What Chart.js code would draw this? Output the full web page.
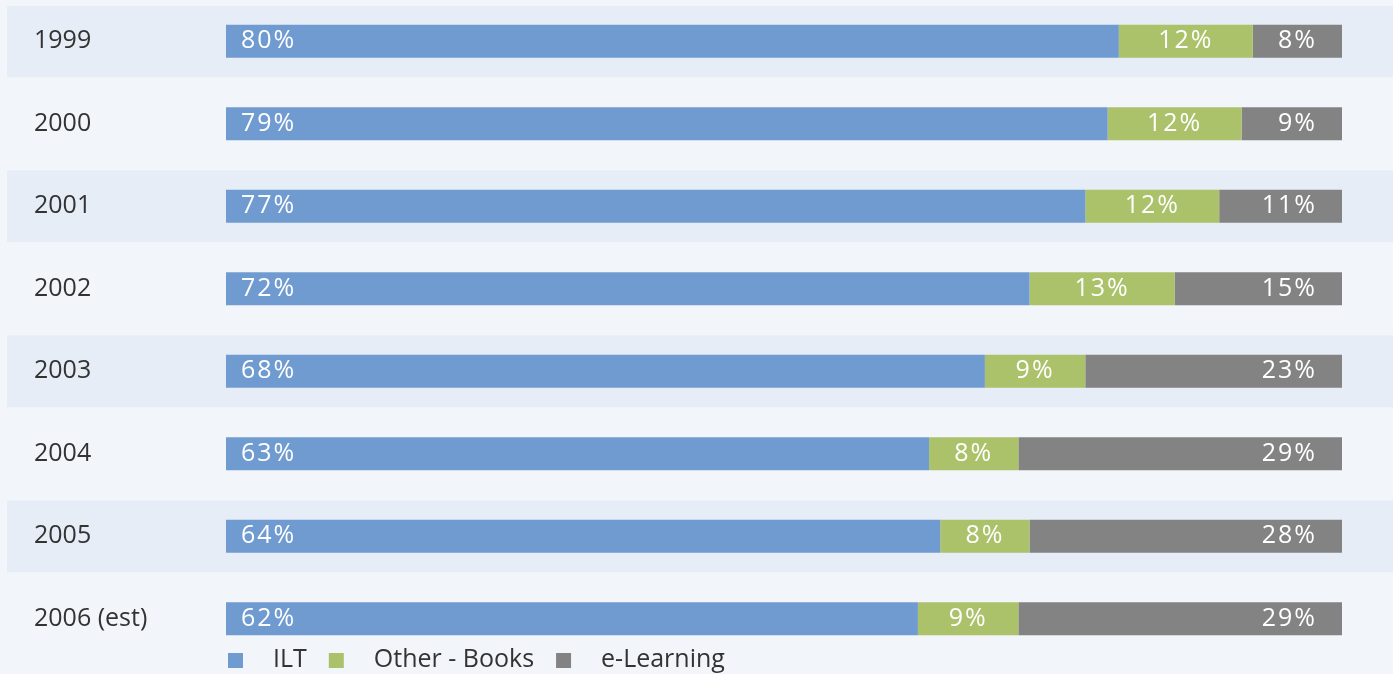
<!DOCTYPE html>
<html>
<head>
<meta charset="utf-8">
<script src="https://cdn.jsdelivr.net/npm/chart.js@4/dist/chart.umd.min.js"></script>
<style>
  html, body { margin: 0; padding: 0; background: #f2f5fa; }
  canvas { display: block; }
</style>
</head>
<body>
<canvas id="c" width="1393" height="674"></canvas>
<script>
const categories = ['1999', '2000', '2001', '2002', '2003', '2004', '2005', '2006 (est)'];
const ilt = [80, 79, 77, 72, 68, 63, 64, 62];
const otherBooks = [12, 12, 12, 13, 9, 8, 8, 9];
const eLearning = [8, 9, 11, 15, 23, 29, 28, 29];
const seriesNames = ['ILT', 'Other - Books', 'e-Learning'];
const seriesColors = ['#6f9bd0', '#abc16a', '#828382'];

const FONT = '"Open Sans", "Noto Sans", sans-serif';

const bandsPlugin = {
  id: 'bands',
  beforeDraw(chart) {
    const ctx = chart.ctx;
    ctx.save();
    ctx.fillStyle = '#f2f5fa';
    ctx.fillRect(0, 0, chart.width, chart.height);
    const y = chart.scales.y;
    const step = Math.abs(y.getPixelForValue(1) - y.getPixelForValue(0));
    const half = step * 0.435;
    ctx.fillStyle = '#e6edf7';
    for (let i = 0; i < categories.length; i += 2) {
      const c = y.getPixelForValue(i);
      const top = Math.max(6, c - half);
      ctx.fillRect(7, top, chart.width - 7, c + half - top);
    }
    ctx.restore();
  }
};

const labelsPlugin = {
  id: 'segLabels',
  afterDatasetsDraw(chart) {
    const ctx = chart.ctx;
    ctx.save();
    ctx.fillStyle = '#ffffff';
    ctx.font = '400 25px ' + FONT;
    ctx.textBaseline = 'middle';
    try { ctx.letterSpacing = '2px'; } catch (e) {}
    chart.data.datasets.forEach((ds, di) => {
      const meta = chart.getDatasetMeta(di);
      meta.data.forEach((el, i) => {
        const p = el.getProps(['x', 'y', 'base'], true);
        const left = Math.min(p.x, p.base), right = Math.max(p.x, p.base);
        const txt = ds.data[i] + '%';
        if (di === 0) {
          ctx.textAlign = 'left';
          ctx.fillText(txt, left + 15, p.y);
        } else if (di === 1) {
          ctx.textAlign = 'center';
          ctx.fillText(txt, (left + right) / 2, p.y);
        } else {
          ctx.textAlign = 'right';
          ctx.fillText(txt, right - 25, p.y);
        }
      });
    });
    ctx.restore();
  }
};

const legendPlugin = {
  id: 'customLegend',
  afterDraw(chart) {
    const ctx = chart.ctx;
    ctx.save();
    ctx.font = '25px ' + FONT;
    ctx.textBaseline = 'middle';
    ctx.textAlign = 'left';
    let x = chart.chartArea.left + 2;
    const yc = 660;
    chart.data.datasets.forEach((ds) => {
      ctx.fillStyle = ds.backgroundColor;
      ctx.fillRect(x, yc - 7, 15, 15);
      x += 15 + 30;
      ctx.fillStyle = '#333333';
      ctx.fillText(ds.label, x, yc);
      x += ctx.measureText(ds.label).width + 22;
    });
    ctx.restore();
  }
};

new Chart(document.getElementById('c'), {
  type: 'bar',
  data: {
    labels: categories,
    datasets: [
      { label: seriesNames[0], data: ilt, backgroundColor: seriesColors[0] },
      { label: seriesNames[1], data: otherBooks, backgroundColor: seriesColors[1] },
      { label: seriesNames[2], data: eLearning, backgroundColor: seriesColors[2] }
    ]
  },
  options: {
    indexAxis: 'y',
    responsive: false,
    animation: false,
    devicePixelRatio: 1,
    layout: { padding: { left: 34, right: 51, top: -3, bottom: 14 } },
    datasets: { bar: { categoryPercentage: 1, barPercentage: 0.4, borderWidth: 0 } },
    plugins: { legend: { display: false }, tooltip: { enabled: false } },
    scales: {
      x: { stacked: true, min: 0, max: 100, display: false },
      y: {
        stacked: true,
        grid: { display: false },
        border: { display: false },
        ticks: {
          color: '#333333',
          font: { family: FONT, size: 25 },
          crossAlign: 'far',
          padding: 0
        },
        afterFit(scale) {
          scale.width = 192;
          scale.paddingTop = 0;
          scale.paddingBottom = 0;
        }
      }
    }
  },
  plugins: [bandsPlugin, labelsPlugin, legendPlugin]
});
</script>
</body>
</html>
